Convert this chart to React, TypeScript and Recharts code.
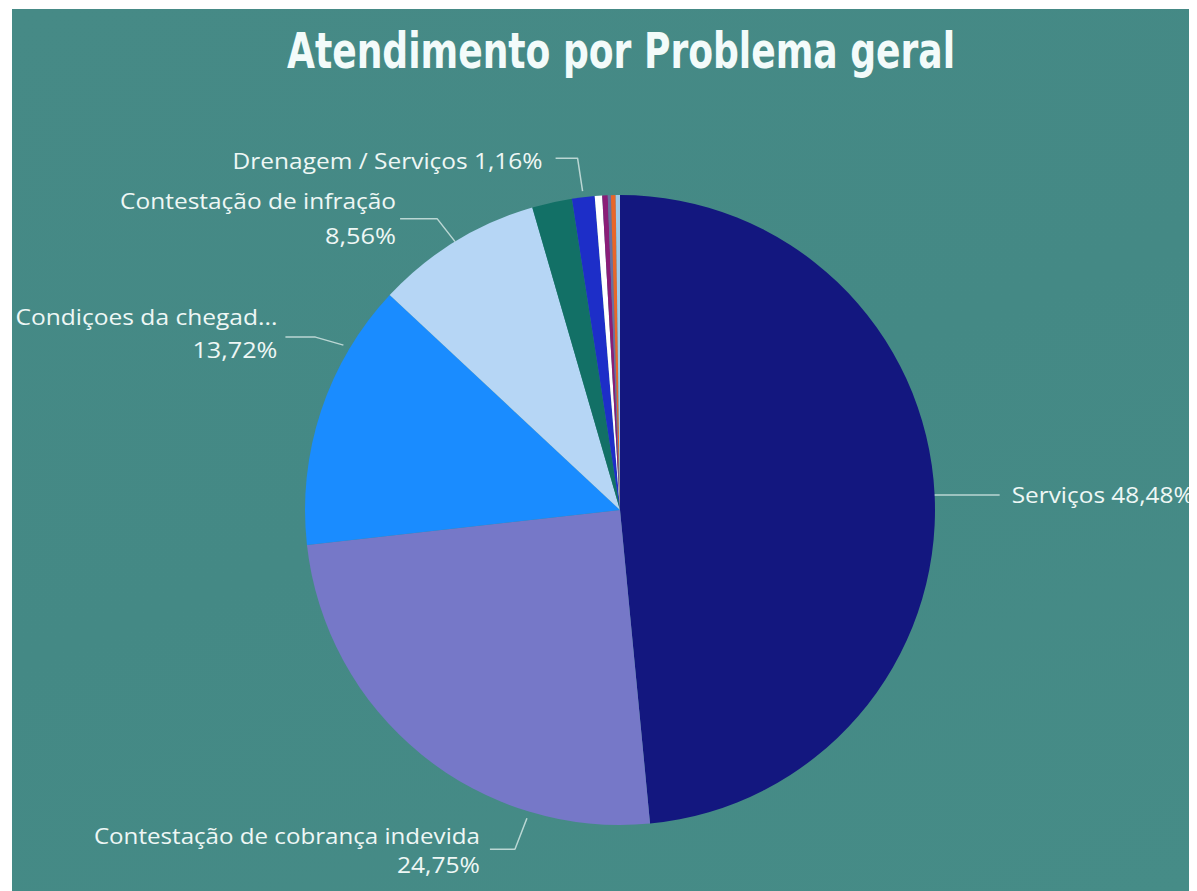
import React from 'react';
import { PieChart, Pie, Cell } from 'recharts';

// slice names, shares (%) and colours, clockwise from 12 o'clock
const names = [
  'Serviços',
  'Contestação de cobrança indevida',
  'Condiçoes da chegada',
  'Contestação de infração',
  'Outros',
  'Drenagem / Serviços',
  'Outros 2',
  'Outros 3',
  'Outros 4',
  'Outros 5',
  'Outros 6',
];
const shares = [48.48, 24.75, 13.72, 8.56, 2.05, 1.16, 0.38, 0.28, 0.16, 0.24, 0.22];
const colors = [
  '#13177f', '#7678c8', '#1a8cff', '#b6d6f5', '#127066', '#1d2ec8',
  '#ffffff', '#8a1d78', '#6b6fa0', '#e8662a', '#9ec8e8',
];

// label text lines per slice (only the labelled ones)
const labelLines: Record<string, string[]> = {
  'Serviços': ['Serviços 48,48%'],
  'Contestação de cobrança indevida': ['Contestação de cobrança indevida', '24,75%'],
  'Condiçoes da chegada': ['Condiçoes da chegad...', '13,72%'],
  'Contestação de infração': ['Contestação de infração', '8,56%'],
  'Drenagem / Serviços': ['Drenagem / Serviços 1,16%'],
};

const data = names.map((name, i) => ({ name, value: shares[i] }));

// leader line layout: angle override (deg clockwise from top), radial offset,
// elbow offset, tail length, text gap, line offsets and text widths
type Layout = {
  angle?: number;
  rOff: number;
  ex: number;
  ey: number;
  tx: number;
  gap: number;
  offs: number[];
  widths: number[];
};
const layouts: Record<string, Layout> = {
  'Serviços': { rOff: 0, ex: 0, ey: 0, tx: 65, gap: 12, offs: [0], widths: [182] },
  'Contestação de cobrança indevida': { angle: 196.8, rOff: 7, ex: -12, ey: 31, tx: -25, gap: 10, offs: [-13, 16], widths: [386, 83] },
  'Condiçoes da chegada': { angle: 300.8, rOff: 7, ex: -28, ey: -8, tx: -30, gap: 8, offs: [-20, 13], widths: [262, 85] },
  'Contestação de infração': { rOff: 0, ex: -18, ey: -23, tx: -37, gap: 4, offs: [-18, 17], widths: [276, 71] },
  'Drenagem / Serviços': { rOff: 6, ex: -5, ey: -33, tx: -22, gap: 13, offs: [3], widths: [310] },
};

const RAD = Math.PI / 180;

const renderLabel = (props: any) => {
  const { cx, cy, midAngle, outerRadius, name } = props;
  const lay = layouts[name];
  if (!lay) return null;
  const theta = lay.angle ?? 90 - midAngle;
  const r = outerRadius + lay.rOff;
  const ax = cx + r * Math.sin(theta * RAD);
  const ay = cy - r * Math.cos(theta * RAD);
  const exx = ax + lay.ex;
  const eyy = ay + lay.ey;
  const txx = exx + lay.tx;
  const right = lay.tx > 0;
  const textX = txx + (right ? lay.gap : -lay.gap);
  return (
    <g>
      <path
        d={`M${ax},${ay} L${exx},${eyy} L${txx},${eyy}`}
        fill="none"
        stroke="rgba(225,240,238,0.75)"
        strokeWidth={1.5}
        strokeLinejoin="round"
      />
      {labelLines[name].map((t, i) => (
        <text
          key={i}
          x={textX}
          y={eyy + lay.offs[i]}
          textAnchor={right ? 'start' : 'end'}
          dominantBaseline="central"
          fill="#eef7f5"
          fontSize={21}
          fontFamily="'Open Sans', 'Noto Sans', sans-serif"
          textLength={lay.widths[i]}
          lengthAdjust="spacingAndGlyphs"
        >
          {t}
        </text>
      ))}
    </g>
  );
};

const App: React.FC = () => {
  return (
    <div
      style={{
        position: 'relative',
        width: 1185,
        height: 882,
        marginLeft: 4,
        marginTop: 1,
        overflow: 'hidden',
        background: 'linear-gradient(160deg, #468a86 0%, #448985 50%, #468c87 100%)',
      }}
    >
      <svg width={1185} height={90} style={{ position: 'absolute', left: 0, top: 0 }}>
        <text
          x={609}
          y={59}
          textAnchor="middle"
          fill="#f3fbfa"
          fontSize={50}
          fontWeight="bold"
          fontFamily="'DejaVu Sans Condensed', 'DejaVu Sans', sans-serif"
          textLength={668}
          lengthAdjust="spacingAndGlyphs"
        >
          Atendimento por Problema geral
        </text>
      </svg>
      <PieChart width={1185} height={882}>
        <Pie
          data={data}
          dataKey="value"
          nameKey="name"
          cx={603}
          cy={496}
          outerRadius={315}
          startAngle={90}
          endAngle={-270}
          stroke="none"
          label={renderLabel}
          labelLine={false}
          isAnimationActive={false}
        >
          {data.map((d, i) => (
            <Cell key={d.name} fill={colors[i]} />
          ))}
        </Pie>
      </PieChart>
    </div>
  );
};

export default App;
